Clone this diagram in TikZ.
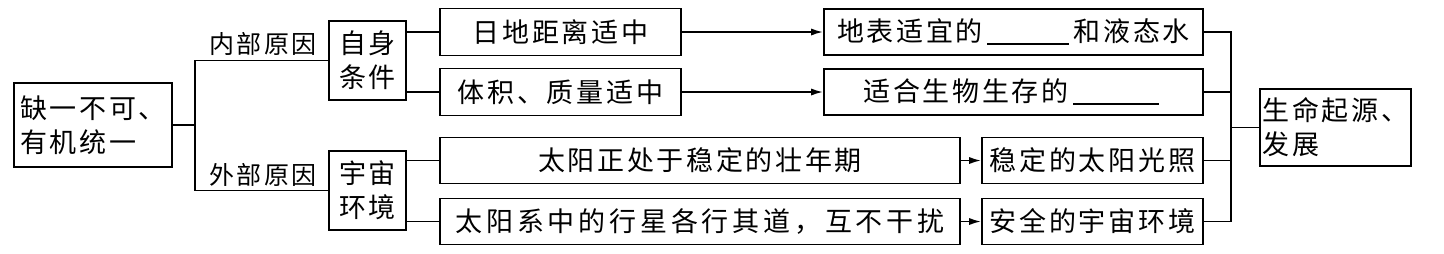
\documentclass[tikz,border=0pt]{standalone}
\usepackage{fontspec}
\setmainfont{Noto Sans CJK SC}[LetterSpace=10]
\usetikzlibrary{arrows.meta}
\newcommand\fillblank[1]{\,\rule[-1.5pt]{#1}{0.8pt}\,}

\begin{document}
\begin{tikzpicture}[x=0.5pt,y=-0.5pt, line width=0.9pt, >={Latex[length=6pt,width=3.6pt]},
	box/.style={draw, inner sep=0pt, font=\fontsize{13.5}{17}\selectfont},
	lab/.style={font=\fontsize{12.5}{15}\selectfont}]
	\useasboundingbox (0,0) rectangle (1444,253);
	\node[box, minimum width=79pt, minimum height=42pt, align=left] (cause) at (93,125) {缺一不可、\\有机统一};
	\node[box, minimum width=38.5pt, minimum height=39.5pt, align=center] (self) at (367.5,60.5) {自身\\条件};
	\node[box, minimum width=38.5pt, minimum height=39.5pt, align=center] (cosmos) at (367.5,190.5) {宇宙\\环境};
	\node[box, minimum width=120.5pt, minimum height=23.5pt] (d1) at (560.5,32) {日地距离适中};
	\node[box, minimum width=120.5pt, minimum height=23.5pt] (d2) at (560.5,92) {体积、质量适中};
	\node[box, minimum width=260pt, minimum height=23pt] (d3) at (700,160.5) {太阳正处于稳定的壮年期};
	\node[box, minimum width=260pt, minimum height=23pt] (d4) at (700,221.5) {\addfontfeatures{LetterSpace=14}太阳系中的行星各行其道，互不干扰};
	\node[box, minimum width=189.5pt, minimum height=23pt] (r1) at (1013.5,32) {地表适宜的\fillblank{41pt}和液态水};
	\node[box, minimum width=189.5pt, minimum height=23pt] (r2) at (1013.5,92) {适合生物生存的\fillblank{43pt}};
	\node[box, minimum width=110.5pt, minimum height=23pt] (r3) at (1092.5,160.5) {稳定的太阳光照};
	\node[box, minimum width=110.5pt, minimum height=23pt] (r4) at (1092.5,221.5) {安全的宇宙环境};
	\node[box, minimum width=75.5pt, minimum height=38.5pt, align=left] (life) at (1335.5,127.5) {生命起源、\\发展};
	% left fork
	\coordinate (bl) at (195,125);
	\draw (cause.east) -- (bl);
	\draw (self.west) -| (bl) |- (cosmos.west);
	\node[lab] (inner) at (263,44) {内部原因};
	\node[lab] (outer) at (263,175) {外部原因};
	\foreach \a/\b in {self/d1, self/d2, cosmos/d3, cosmos/d4} { \draw (\b.west) -- (\b.west -| \a.east); }
	\foreach \a/\b in {d1/r1, d2/r2, d3/r3, d4/r4} { \draw[->] (\a) -- (\b); }
	% right fork
	\coordinate (br) at (1231,127.5);
	\draw (r1.east) -| (br) |- (r4.east);
	\foreach \r in {r2,r3} { \draw (\r.east) -- (\r.east -| br); }
	\draw (br) -- (life);
\end{tikzpicture}
\end{document}
